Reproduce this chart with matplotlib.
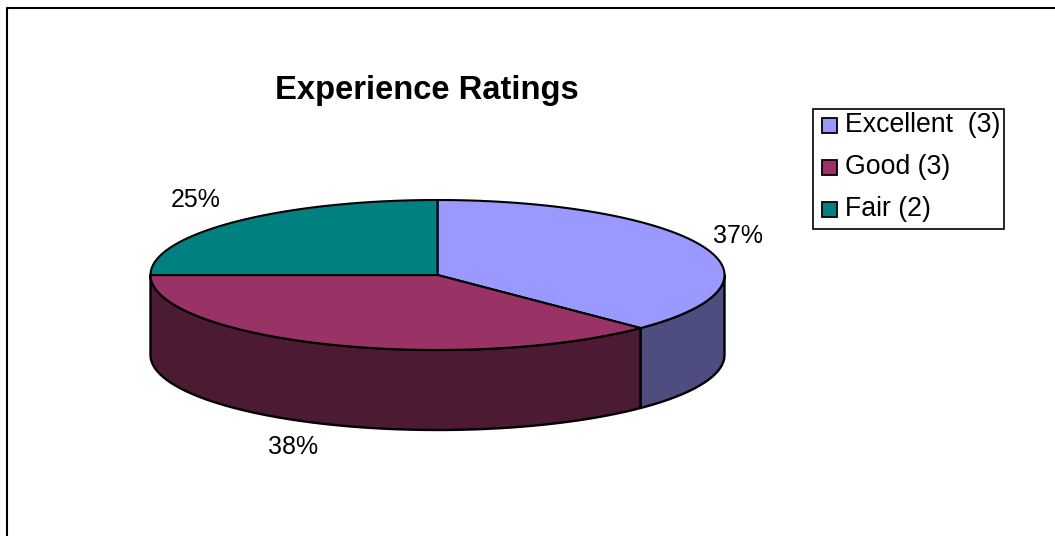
import numpy as np
import matplotlib
matplotlib.use("Agg")
import matplotlib.pyplot as plt
from matplotlib.patches import Rectangle

plt.rcParams["font.family"] = ["Liberation Sans", "DejaVu Sans"]

# data
categories = ["Excellent  (3)", "Good (3)", "Fair (2)"]
counts = [3, 3, 2]
pct_labels = ["37%", "38%", "25%"]
top_colors = ["#9999FF", "#993366", "#008080"]
side_colors = ["#4D4D80", "#4D1A33", "#004040"]

# geometry of the 3d pie, in pixels
cx, cy = 437.5, 275
rx, ry = 287, 75
depth = 80

fig = plt.figure(figsize=(10.55, 5.36), dpi=100)
ax = fig.add_axes([0, 0, 1, 1])
ax.set_xlim(0, 1055)
ax.set_ylim(536, 0)
ax.axis("off")


def rim(a0, a1, n=120):
    # angle clockwise from 12 o'clock, screen coords
    t = np.radians(np.linspace(a0, a1, n))
    return cx + rx * np.sin(t), cy - ry * np.cos(t)


# chart frame
ax.plot([6.8, 6.8, 1055], [536, 8, 8], color="black", lw=1.5, solid_capstyle="butt")

shares = np.array(counts) / sum(counts) * 360
edges = np.concatenate([[0], np.cumsum(shares)])

# side walls first
for i in range(len(counts)):
    a0, a1 = edges[i], edges[i + 1]
    lo, hi = max(a0, 90), min(a1, 270)
    if lo >= hi:
        continue
    x, y = rim(lo, hi)
    xs = np.concatenate([x, x[::-1]])
    ys = np.concatenate([y, y[::-1] + depth])
    ax.fill(xs, ys, facecolor=side_colors[i], edgecolor="black", lw=1.7, joinstyle="round")

# top faces
for i in range(len(counts)):
    x, y = rim(edges[i], edges[i + 1])
    xs = np.concatenate([[cx], x, [cx]])
    ys = np.concatenate([[cy], y, [cy]])
    ax.fill(xs, ys, facecolor=top_colors[i], edgecolor="black", lw=1.5, joinstyle="round")

# percent labels
ax.text(738, 236, pct_labels[0], fontsize=18, ha="center", va="center")
ax.text(293, 447, pct_labels[1], fontsize=18, ha="center", va="center")
ax.text(196, 200, pct_labels[2], fontsize=18, ha="center", va="center")

ax.text(427, 91, "Experience Ratings", fontsize=23.6, fontweight="bold", ha="center", va="center")

# legend box
ax.add_patch(Rectangle((812.5, 109), 191.5, 119.5, facecolor="white", edgecolor="black", lw=1.2))
for i, name in enumerate(categories):
    yy = 125 + i * 42
    ax.add_patch(Rectangle((822, yy - 7.5), 15, 15, facecolor=top_colors[i], edgecolor="black", lw=1.3))
    ax.text(845, yy, name, fontsize=19.2, ha="left", va="center")

fig.savefig("out.png", dpi=100)
